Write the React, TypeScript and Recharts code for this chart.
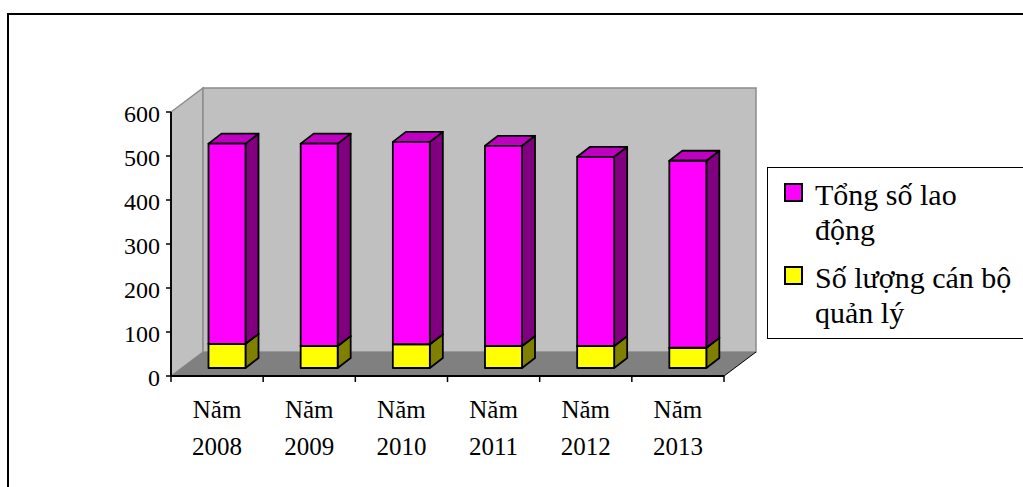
import { BarChart, Bar, XAxis, YAxis, ReferenceArea, Legend } from "recharts";

const years = ["2008", "2009", "2010", "2011", "2012", "2013"];
const managers = [55, 50, 54, 50, 50, 46];
const restOfStaff = [455, 460, 460, 455, 430, 425];
const yTicks = [0, 100, 200, 300, 400, 500, 600];

const data = years.map((y, i) => ({
  name: "Năm " + y,
  year: y,
  managers: managers[i],
  total: restOfStaff[i],
}));

const FONT = '"Liberation Serif", "Times New Roman", serif';

// depth of the whole plot box, and of a single bar
const WALL_DX = 32;
const WALL_DY = 24;
const BAR_DX = 13;
const BAR_DY = 10;
const SHIFT_X = 9.5;
const SHIFT_Y = 8;

function makeBar3D(front: string, side: string, top: string) {
  return function Bar3D(props: any) {
    const { x, y, width, height } = props;
    if (width == null || height == null) return null;
    const fx = x + SHIFT_X;
    const fy = y - SHIFT_Y;
    const r = fx + width;
    const b = fy + height;
    const stroke = { stroke: "#000", strokeWidth: 1.8, strokeLinejoin: "round" as const };
    return (
      <g>
        <polygon
          points={`${r},${fy} ${r + BAR_DX},${fy - BAR_DY} ${r + BAR_DX},${b - BAR_DY} ${r},${b}`}
          fill={side}
          {...stroke}
        />
        <polygon
          points={`${fx},${fy} ${fx + BAR_DX},${fy - BAR_DY} ${r + BAR_DX},${fy - BAR_DY} ${r},${fy}`}
          fill={top}
          {...stroke}
        />
        <rect x={fx} y={fy} width={width} height={height} fill={front} {...stroke} />
      </g>
    );
  };
}

function Walls(props: any) {
  const { x, y, width, height } = props;
  const l = x;
  const r = x + width;
  const t = y;
  const b = y + height;
  return (
    <g>
      {/* left side wall */}
      <polygon
        points={`${l},${b} ${l},${t} ${l + WALL_DX},${t - WALL_DY} ${l + WALL_DX},${b - WALL_DY}`}
        fill="#c0c0c0"
        stroke="#8c8c8c"
        strokeWidth={1.5}
      />
      {/* back wall */}
      <rect
        x={l + WALL_DX}
        y={t - WALL_DY}
        width={width}
        height={height}
        fill="#c0c0c0"
        stroke="#8c8c8c"
        strokeWidth={1.5}
      />
      {/* floor */}
      <polygon
        points={`${l},${b} ${r},${b} ${r + WALL_DX},${b - WALL_DY} ${l + WALL_DX},${b - WALL_DY}`}
        fill="#808080"
      />
      <line x1={r} y1={b} x2={r + WALL_DX} y2={b - WALL_DY} stroke="#000" strokeWidth={1} />
      <line x1={l} y1={b} x2={r} y2={b} stroke="#000" strokeWidth={2} />
      <line x1={l} y1={b} x2={l} y2={t} stroke="#000" strokeWidth={1.5} />
    </g>
  );
}

function YearTick(props: any) {
  const { x, y, payload, index } = props;
  const half = payload && payload.offset ? payload.offset : 46;
  const row = data[index] || { year: "" };
  return (
    <g>
      <line x1={x - half} y1={y} x2={x - half} y2={y + 6} stroke="#000" strokeWidth={1.5} />
      {index === data.length - 1 && (
        <line x1={x + half} y1={y} x2={x + half} y2={y + 6} stroke="#000" strokeWidth={1.5} />
      )}
      <text x={x} y={y + 42} textAnchor="middle" fontFamily={FONT} fontSize={25} fill="#000">
        <tspan x={x}>Năm</tspan>
        <tspan x={x} dy={37}>
          {row.year}
        </tspan>
      </text>
    </g>
  );
}

function ValueTick(props: any) {
  const { x, y, payload } = props;
  return (
    <text x={x} y={y + 10} textAnchor="end" fontFamily={FONT} fontSize={24} fill="#000">
      {payload.value}
    </text>
  );
}

const legendItems = [
  { label: "Tổng số lao động", color: "#ff00ff" },
  { label: "Số lượng cán bộ quản lý", color: "#ffff00" },
];

function LegendBox() {
  return (
    <div
      style={{
        boxSizing: "border-box",
        width: 256,
        height: 172,
        borderLeft: "1.5px solid #000",
        borderTop: "1.5px solid #000",
        borderBottom: "1.5px solid #000",
        padding: "9px 0 0 16px",
        fontFamily: FONT,
        fontSize: 30,
        lineHeight: "35px",
        color: "#000",
        background: "#fff",
      }}
    >
      {legendItems.map((it, i) => (
        <div key={it.label} style={{ display: "flex", alignItems: "flex-start", marginTop: i ? 13 : 0 }}>
          <span
            style={{
              display: "inline-block",
              boxSizing: "border-box",
              width: 19,
              height: 19,
              marginTop: 6,
              marginRight: 12,
              background: it.color,
              border: "2px solid #000",
              flex: "none",
            }}
          />
          <span style={{ width: 200 }}>{it.label}</span>
        </div>
      ))}
    </div>
  );
}

export default function App() {
  return (
    <div
      style={{
        position: "absolute",
        left: 0,
        top: 0,
        width: 1023,
        height: 487,
        overflow: "hidden",
        background: "#fff",
      }}
    >
      <div
        style={{
          position: "absolute",
          left: 7,
          top: 13,
          width: 1100,
          height: 600,
          borderLeft: "2px solid #000",
          borderTop: "2px solid #000",
        }}
      />
      <div style={{ position: "absolute", left: 0, top: 0 }}>
        <BarChart
          width={1023}
          height={487}
          data={data}
          margin={{ top: 112, right: 299, bottom: 51, left: 111 }}
          barSize={37}
        >
          <ReferenceArea y1={0} y2={600} shape={Walls} ifOverflow="visible" />
          <XAxis
            dataKey="name"
            height={60}
            axisLine={{ stroke: "#000", strokeWidth: 2 }}
            tickLine={false}
            tickSize={0}
            tickMargin={0}
            interval={0}
            tick={YearTick}
          />
          <YAxis
            width={60}
            domain={[0, 600]}
            ticks={yTicks}
            axisLine={{ stroke: "#000", strokeWidth: 1.5 }}
            tickLine={{ stroke: "#000", strokeWidth: 1.5 }}
            tickSize={5}
            tickMargin={6}
            tick={ValueTick}
          />
          <Bar
            dataKey="managers"
            name="Số lượng cán bộ quản lý"
            stackId="a"
            fill="#ffff00"
            shape={makeBar3D("#ffff00", "#808000", "#c0c000")}
            isAnimationActive={false}
          />
          <Bar
            dataKey="total"
            name="Tổng số lao động"
            stackId="a"
            fill="#ff00ff"
            shape={makeBar3D("#ff00ff", "#800080", "#c000c0")}
            isAnimationActive={false}
          />
          <Legend
            layout="vertical"
            align="center"
            verticalAlign="middle"
            wrapperStyle={{ left: 767, top: 167, width: 256 }}
            content={LegendBox}
          />
        </BarChart>
      </div>
    </div>
  );
}
